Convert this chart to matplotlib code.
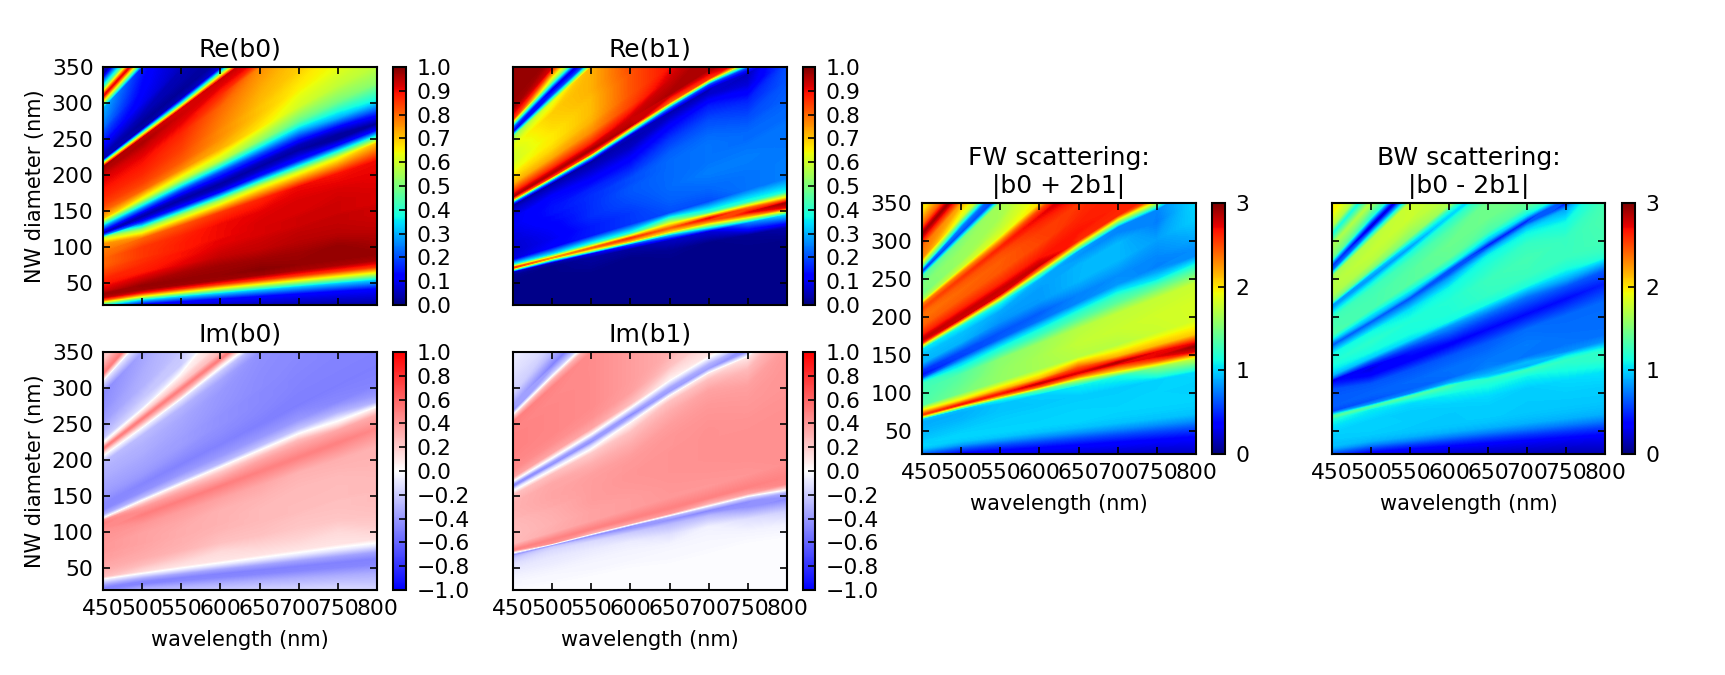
#!/usr/bin/env python3
# -*- coding: utf-8 -*-
# Scattering coefficients b0, b1 of a nanowire versus wavelength and diameter
import matplotlib
matplotlib.use("Agg")
from matplotlib import pyplot as plt
from matplotlib.cm import ScalarMappable
from matplotlib.colors import Normalize
import numpy as np

wavelength = [450, 500, 550, 600, 650, 700, 750, 800]
# the resonances run along straight lines d = slope * (wavelength - 190),
# so the tables are sampled along those lines instead of at fixed diameter
origin = 190
slope = [.03, .07, .09, .105, .12, .135, .15, .18, .21, .24,
         .255, .265, .275, .29, .32, .36, .40, .43, .445, .46,
         .475, .50, .54, .58, .61, .625, .64, .655, .68, .72,
         .76, .79, .81, .83, .85, .88, .92, .97, 1.0, 1.03,
         1.07, 1.13, 1.19, 1.23, 1.3, 1.4]
xticks = [450, 500, 550, 600, 650, 700, 750, 800]
yticks = [50, 100, 150, 200, 250, 300, 350]

# every table: one line per wavelength, slope going up, values in percent
re_b0 = [
    [10,28,55,82,95,97,93,89,87,84,83,82,81,80,80,78,75,60,25,3,12,30,70,80,84,85,86,87,88,90,92,95,97,60,5,5,10,17,20,24,27,30,90,45,5,5],
    [2,12,35,65,88,97,98,93,88,87,86,86,85,85,85,80,55,20,8,3,7,25,62,80,84,85,86,87,88,90,93,96,94,50,4,2,5,10,11,12,13,15,90,45,5,5],
    [1,12,33,62,86,97,98,96,91,89,89,88,88,88,87,82,55,15,7,3,6,20,58,76,81,82,83,84,85,87,91,93,92,40,5,2,4,5,6,6,6,6,6,6,6,6],
    [1,12,33,60,85,97,98,97,94,92,91,91,90,90,90,85,55,12,5,3,8,20,58,72,75,76,76,77,78,80,86,91,93,50,8] + [3] * 11,
    [1,12,32,60,85,97,99,97,94,93,92,92,92,92,91,87,60,15,7,3,6,20,52,66,69,70,70,71,72,74,76,90,93,50,8] + [3] * 11,
    [1,12,32,60,85,96,98,97,95,94,93,93,93,92,92,90,60,15,8,3,5,20,47,60,63,65,66,67,69,70,72,85,90,50,8] + [3] * 11,
    [1,12,32,60,85,96,98,98,95,94,94,93,93,93,92,89,62,13,3,3,10,30,49,58,61,63,64,64,65,65] + [65] * 16,
    [2,12,32,60,85,96,98,96,94,93,93,92,92,92,91,90,70,12,2,10,20,37,52,58,60,60,60,60,60,60] + [60] * 16,
]

im_b0 = [
    [-30,-45,-50,-38,-22,-5,25,31,34,37,38,38,39,40,40,41,43,49,43,-5,-32,-46,-46,-40,-37,-36,-35,-34,-32,-30,-27,-5,15,49,10,-22,-30,-38,-40,-43,-44,-46,-10,50,22,22],
    [-14,-32,-48,-47,-32,-10,14,26,32,34,35,35,36,36,36,40,50,40,27,5,-26,-43,-48,-40,-37,-36,-35,-34,-32,-30,-26,-5,24,50,20,-12,-22,-30,-31,-32,-34,-36,-10,50,22,22],
    [-10,-32,-47,-48,-35,-10,10,20,29,31,31,32,32,32,34,38,50,36,25,5,-24,-40,-49,-43,-39,-38,-38,-37,-36,-34,-29,-10,27,49,22,5,-20,-22,-24,-24,-24,-24,-24,-24,-24,-24],
    [-10,-32,-47,-49,-36,-10,10,14,24,27,29,29,30,30,30,36,50,32,22,5,-27,-40,-49,-45,-43,-43,-43,-42,-41,-40,-35,-20,10,50,27] + [17] * 11,
    [-10,-32,-47,-49,-36,-10,10,17,24,26,27,27,27,27,29,34,49,36,25,5,-24,-40,-50,-47,-46,-46,-46,-45,-45,-44,-43,-30,10,50,27] + [17] * 11,
    [-10,-32,-47,-49,-36,-10,10,17,22,24,26,26,26,27,27,30,49,36,27,5,-22,-40,-50,-49,-48,-48,-47,-47,-46,-46,-45,-30,10,50,27] + [17] * 11,
    [-10,-32,-47,-49,-36,-10,10,14,22,24,24,26,26,26,27,31,49,34,10,-10,-30,-46,-50,-49,-49,-48,-48,-48,-48,-48] + [-48] * 16,
    [-14,-32,-47,-49,-36,-8,12,20,24,26,26,27,27,27,29,30,46,32,8,-30,-40,-48,-50,-49,-49,-49,-49,-49,-49,-49] + [-49] * 16,
]

re_b1 = [
    [1,1,1,1,1,1,1,1,1,2,6,45,85,40,8,7,7,8,8,9,9,10,10,7,3,25,70,95,85,72,67,63,62,60,60,60,62,52,6,25,85,97,98,98,98,98],
    [1,1,1,1,1,1,1,1,1,1,4,35,75,35,12,10,11,12,13,13,14,14,13,7,3,30,85,95,85,73,68,66,66,66,67,68,69,62,20,6,55,92,98,98,98,98],
    [1,1,1,1,1,1,1,1,2,3,10,55,80,40,15,15,17,17,17,17,17,16,11,6,3,30,85,96,86,76,72,71,71,71,71,72,72,72,20,6,55,92,98,98,98,98],
    [1,1,1,1,1,1,1,1,1,3,20,70,85,40,18,18,20,21,21,20,20,17,12,6,4,7,50,95,93,84,82,82,82,82] + [83] * 12,
    [1,1,1,1,1,1,1,1,2,6,30,68,80,60,20,22,23,23,23,23,23,22,18,12,6,4,25,80,96,93,89] + [89] * 15,
    [1,1,1,1,1,1,1,1,1,8,50,75,90,42,20,23,25,24,24,24,24,23,20,15,7,4,20,85,96,97] + [97] * 16,
    [1,1,1,1,1,1,1,1,2,25,70,90,80,40,24,24,25,24,23,23,22,20,16,8,5,20,70,97,96,96] + [96] * 16,
    [1,1,1,1,1,1,1,1,4,35,90,97,70,38,25,25,24,24,24,23,23,22,21,20] + [20] * 22,
]

im_b1 = [
    [-1,-1,-2,-3,-3,-4,-5,-8,-12,-20,-30,-50,-10,49,27,26,26,27,27,29,29,30,30,25,-10,-43,-46,-10,36,45,47,48,49,49,49,49,48,50,15,-43,-36,-18,-15,-12,-8,-5],
    [-1,-1,-1,-2,-2,-3,-4,-7,-9,-14,-20,-48,43,48,32,30,31,32,34,34,35,35,34,25,-15,-46,-36,-5,35,44,47,47,47,47,47,47,46,48,30,-20,-50,-27,-14,-12,-10,-8],
    [-1,-1,-1,-1,-2,-3,-3,-5,-8,-14,-30,-50,30,49,36,36,38,38,38,38,38,37,31,20,-17,-46,-36,-5,35,43,45,45,45,45,45,45,45,45,30,-20,-50,-27,-14,-12,-10,-8],
    [-1,-1,-1,-1,-1,-2,-3,-4,-7,-20,-40,-46,36,49,38,38,40,41,41,40,40,38,32,24,5,-26,-50,-22,25,37] + [38] * 16,
    [-1,-1,-1,-1,-1,-2,-2,-4,-12,-27,-45,-30,40,49,40,41,42,42,42,42,41,41,38,32,24,5,-40,-35,5,24,31] + [31] * 15,
    [-1,-1,-1,-1,-1,-1,-2,-3,-5,-27,-50,-20,30,49,40,42,43,43,43,43,43,42,40,36,25,10,-40,-30,10,17] + [17] * 16,
    [-1,-1,-1,-1,-1,-1,-1,-4,-12,-42,-45,-20,35,49,41,43,43,43,42,42,41,40,37,27,10,-40,-46,-5,10,10] + [10] * 16,
    [-1,-1,-1,-1,-1,-1,-1,-5,-18,-48,-30,17,46,48,43,43,43,43,43,42,42,41,41,40] + [40] * 22,
]

W, H = 1725.0, 675.0
DPI = 150
plt.rcParams["font.family"] = "DejaVu Sans"
plt.rcParams["font.size"] = 10
plt.rcParams["axes.linewidth"] = 1.0

# curved mesh: wavelength along one side, diameter from the slope lines
wl_grid, s_grid = np.meshgrid(wavelength, slope)
d_grid = s_grid * (wl_grid - origin)


def px_axes(fig, x0, x1, y0, y1):
    # axes box given in pixels from the top left corner of the figure
    return fig.add_axes([x0 / W, 1 - y1 / H, (x1 - x0) / W, (y1 - y0) / H])


def panel(fig, box, cbox, data, title, cmap, vmin, vmax, cticks, xlab=True, ylab=True):
    ax = px_axes(fig, *box)
    cax = px_axes(fig, cbox[0], cbox[1], box[2], box[3])
    norm = Normalize(vmin, vmax)
    ax.contourf(wl_grid, d_grid, data, levels=np.linspace(vmin, vmax, 256), cmap=cmap,
                norm=norm, extend="both")
    ax.set_xlim(450, 800)
    ax.set_ylim(20, 350)
    ax.set_xticks(xticks)
    ax.set_yticks(yticks)
    ax.tick_params(direction="in", top=True, right=True, length=3.2, width=0.8, pad=4.5, labelsize=10.5)
    ax.set_title(title, fontsize=12, pad=5)
    if xlab:
        ax.set_xlabel("wavelength (nm)", labelpad=5)
    else:
        ax.set_xticklabels([])
    if ylab:
        ax.set_ylabel("NW diameter (nm)", labelpad=3)
    else:
        ax.set_yticklabels([])
    cb = fig.colorbar(ScalarMappable(norm=norm, cmap=cmap), cax=cax, ticks=cticks)
    cb.ax.tick_params(direction="in", length=3.2, width=0.8, pad=5, labelsize=10.5)
    cb.outline.set_linewidth(1.0)
    return ax


b0 = (np.array(re_b0) + 1j * np.array(im_b0)).T / 100.0
b1 = (np.array(re_b1) + 1j * np.array(im_b1)).T / 100.0
fw = np.abs(b0 + 2 * b1)
bw = np.abs(b0 - 2 * b1)

re_ticks = np.arange(0, 1.01, 0.1)
im_ticks = np.arange(-1, 1.01, 0.2)
sum_ticks = [0, 1, 2, 3]

fig = plt.figure(figsize=(W / DPI, H / DPI), dpi=DPI)

panel(fig, (103, 377, 67, 305), (393, 406), b0.real, "Re(b0)", "jet", 0, 1, re_ticks, xlab=False)
panel(fig, (513, 787, 67, 305), (803, 815), b1.real, "Re(b1)", "jet", 0, 1, re_ticks, xlab=False, ylab=False)
panel(fig, (103, 377, 352, 590), (393, 406), b0.imag, "Im(b0)", "bwr", -1, 1, im_ticks)
panel(fig, (513, 787, 352, 590), (803, 815), b1.imag, "Im(b1)", "bwr", -1, 1, im_ticks, ylab=False)

ax = panel(fig, (922, 1196, 203, 454), (1212, 1225), fw, "FW scattering:\n|b0 + 2b1|", "jet", 0, 3, sum_ticks)
ax.set_ylabel("")
ax = panel(fig, (1332, 1605, 203, 454), (1622, 1635), bw, "BW scattering:\n|b0 - 2b1|", "jet", 0, 3, sum_ticks, ylab=False)

plt.savefig("out.png", dpi=DPI)
